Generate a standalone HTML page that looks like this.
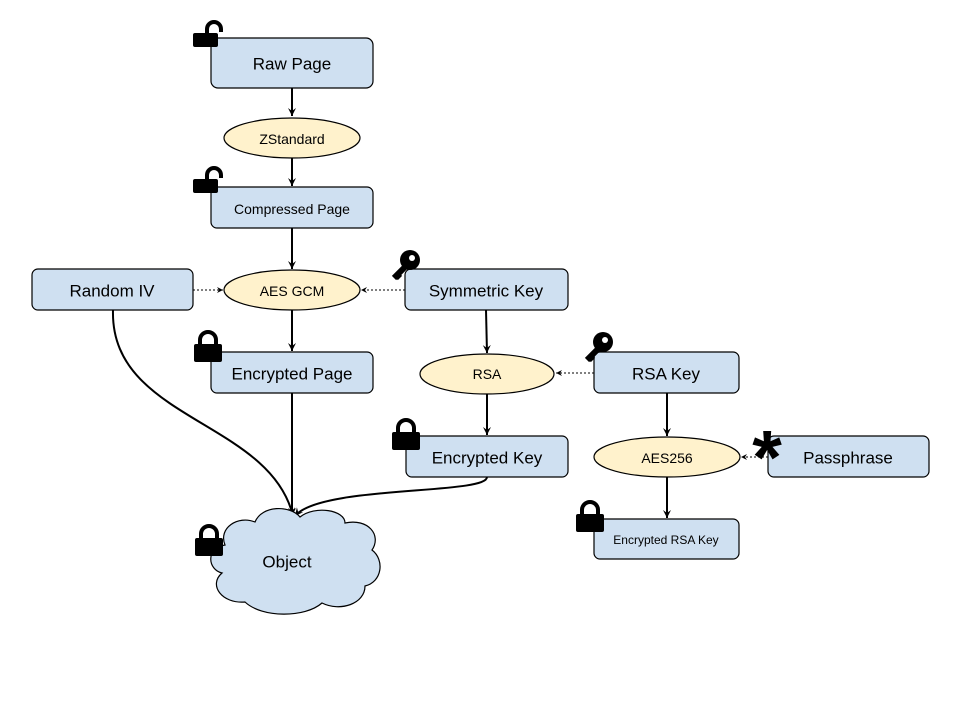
<!DOCTYPE html>
<html><head><meta charset="utf-8"><style>
html,body{margin:0;padding:0;background:#fff}
svg text{font-family:"Liberation Sans",Arial,sans-serif;fill:#000;text-anchor:middle;dominant-baseline:central}
</style></head><body>
<svg width="960" height="720" viewBox="0 0 960 720" xmlns="http://www.w3.org/2000/svg">
<defs>
<marker id="a" markerWidth="10" markerHeight="10" refX="8" refY="5" orient="auto" markerUnits="userSpaceOnUse">
<path d="M0,1 L8,5 L0,9 L3,5 Z" fill="#000"/></marker>
<marker id="d" markerWidth="8" markerHeight="8" refX="6" refY="4" orient="auto" markerUnits="userSpaceOnUse">
<path d="M0,1 L6,4 L0,7 L2,4 Z" fill="#000"/></marker>
<g id="lock"><path d="M6,14 V9 a8,8 0 0 1 16,0 V14" fill="none" stroke="#000" stroke-width="4"/><rect x="0" y="13" width="28" height="18" rx="2" fill="#000"/></g>
<g id="unlock"><path d="M14,14 V9 a7,7 0 0 1 14,0 V12" fill="none" stroke="#000" stroke-width="4"/><rect x="0" y="13" width="25" height="14" rx="2" fill="#000"/></g>
<g id="key"><circle cx="20" cy="10" r="10" fill="#000"/><circle cx="22" cy="8" r="3" fill="#fff"/><path d="M16,16 L4,28 M6,24 L10,28 M10,20 L13,23" stroke="#000" stroke-width="6" stroke-linecap="butt"/></g>
</defs>

<g stroke="#000" stroke-width="2" fill="none">
<path d="M292,88 V116" marker-end="url(#a)"/>
<path d="M292,158 V186" marker-end="url(#a)"/>
<path d="M292,228 V269" marker-end="url(#a)"/>
<path d="M292,310 V351" marker-end="url(#a)"/>
<path d="M486,310 L487,353" marker-end="url(#a)"/>
<path d="M487,394 V435" marker-end="url(#a)"/>
<path d="M667,393 V436" marker-end="url(#a)"/>
<path d="M667,477 V518" marker-end="url(#a)"/>
<path d="M292,393 V516" marker-end="url(#a)"/>
<path d="M113,310 C110,420 270,420 293,516" marker-end="url(#a)"/>
<path d="M487,477 C487,495 320,485 295,516" marker-end="url(#a)"/>
</g>
<g stroke="#000" stroke-width="1" stroke-dasharray="2,2" fill="none">
<path d="M193,290 H223" marker-end="url(#d)"/>
<path d="M405,290 H361" marker-end="url(#d)"/>
<path d="M594,373 H556" marker-end="url(#d)"/>
<path d="M768,457 H741" marker-end="url(#d)"/>
</g>

<g fill="#cfe0f1" stroke="#000" stroke-width="1.2">
<rect x="211" y="38" width="162" height="50" rx="7"/>
<rect x="211" y="187" width="162" height="41" rx="6"/>
<rect x="32" y="269" width="161" height="41" rx="6"/>
<rect x="405" y="269" width="163" height="41" rx="6"/>
<rect x="211" y="352" width="162" height="41" rx="6"/>
<rect x="594" y="352" width="145" height="41" rx="6"/>
<rect x="406" y="436" width="162" height="41" rx="6"/>
<rect x="768" y="436" width="161" height="41" rx="6"/>
<rect x="594" y="519" width="145" height="40" rx="6"/>
<path d="M245,602 C222,604 208,585 222,573 C208,570 205,548 225,545 C218,528 238,515 255,522 C262,505 290,505 300,517 C315,505 345,510 345,523 C368,518 382,535 372,550 C385,560 382,582 365,586 C365,604 340,612 322,603 C305,618 262,618 245,602 Z"/>
</g>
<g fill="#fff2cc" stroke="#000" stroke-width="1.2">
<ellipse cx="292" cy="138" rx="68" ry="20"/>
<ellipse cx="292" cy="290" rx="68" ry="20"/>
<ellipse cx="487" cy="374" rx="67" ry="20"/>
<ellipse cx="667" cy="457" rx="73" ry="20"/>
</g>

<text x="292" y="64" font-size="17">Raw Page</text>
<text x="292" y="139" font-size="14">ZStandard</text>
<text x="292" y="209" font-size="14">Compressed Page</text>
<text x="112" y="291" font-size="17">Random IV</text>
<text x="292" y="291" font-size="14">AES GCM</text>
<text x="486" y="291" font-size="17">Symmetric Key</text>
<text x="292" y="374" font-size="17">Encrypted Page</text>
<text x="487" y="374" font-size="14">RSA</text>
<text x="666" y="374" font-size="17">RSA Key</text>
<text x="487" y="458" font-size="17">Encrypted Key</text>
<text x="667" y="458" font-size="14">AES256</text>
<text x="848" y="458" font-size="17">Passphrase</text>
<text x="666" y="540" font-size="12">Encrypted RSA Key</text>
<text x="287" y="562" font-size="17">Object</text>

<use href="#unlock" x="193" y="20"/>
<use href="#unlock" x="193" y="166"/>
<use href="#key" x="390" y="250"/>
<use href="#lock" x="194" y="331"/>
<use href="#key" x="583" y="332"/>
<use href="#lock" x="392" y="419"/>
<use href="#lock" x="576" y="501"/>
<use href="#lock" x="195" y="525"/>
<text x="767" y="458" font-size="76" font-weight="bold">*</text>
</svg>
</body></html>
